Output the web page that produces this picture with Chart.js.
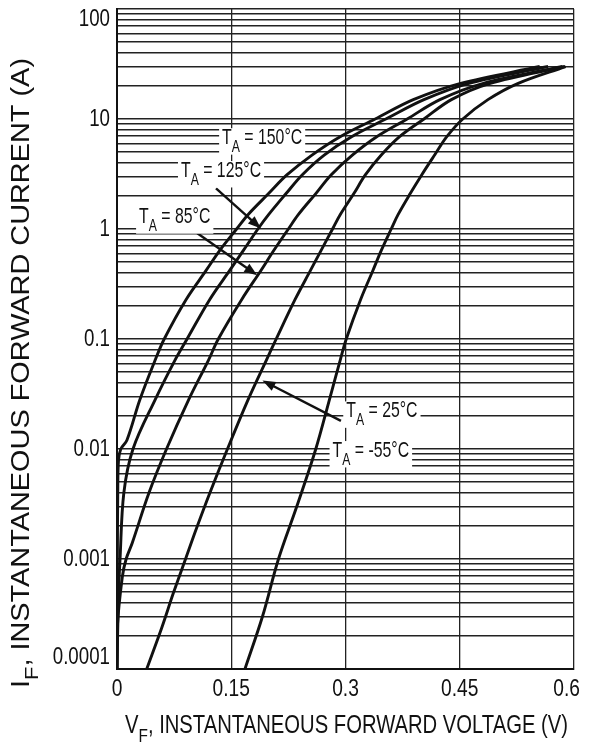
<!DOCTYPE html>
<html>
<head>
<meta charset="utf-8">
<script src="https://cdn.jsdelivr.net/npm/chart.js@4.4.1/dist/chart.umd.min.js"></script>
<style>
  html, body { margin: 0; padding: 0; background: #fff; }
  #wrap { width: 590px; height: 749px; }
</style>
</head>
<body>
<div id="wrap"><canvas id="chart" width="590" height="749"></canvas></div>
<script>
// forward voltage (V) vs forward current (A)
const vf150 = [0, 0.0005, 0.001, 0.002, 0.005, 0.013, 0.03, 0.05, 0.062, 0.091, 0.117, 0.135, 0.157, 0.172, 0.199, 0.223, 0.256, 0.293, 0.339, 0.389, 0.45, 0.555];
const if150 = [0.0001, 0.001, 0.004, 0.0079, 0.01, 0.012, 0.028, 0.064, 0.1, 0.23, 0.42, 0.64, 1, 1.35, 2.1, 3.1, 4.7, 6.9, 10, 15, 21, 30];

const vf125 = [0, 0.002, 0.004, 0.009, 0.021, 0.05, 0.076, 0.092, 0.122, 0.148, 0.166, 0.185, 0.199, 0.222, 0.243, 0.272, 0.308, 0.353, 0.403, 0.461, 0.566];
const if125 = [0.0001, 0.00049, 0.001, 0.004, 0.01, 0.028, 0.064, 0.1, 0.23, 0.42, 0.64, 1, 1.35, 2.1, 3.1, 4.7, 6.9, 10, 15, 21, 30];

const vf85 = [0, 0.0004, 0.007, 0.012, 0.02, 0.042, 0.065, 0.094, 0.12, 0.133, 0.164, 0.189, 0.206, 0.225, 0.238, 0.261, 0.281, 0.309, 0.341, 0.381, 0.424, 0.48, 0.585];
const if85 = [0.0001, 0.00024, 0.00069, 0.001, 0.0014, 0.004, 0.01, 0.028, 0.064, 0.1, 0.23, 0.42, 0.64, 1, 1.35, 2.1, 3.1, 4.7, 6.9, 10, 15, 21, 30];

const vf25 = [0.039, 0.059, 0.074, 0.09, 0.105, 0.122, 0.145, 0.172, 0.196, 0.209, 0.234, 0.254, 0.268, 0.283, 0.293, 0.311, 0.326, 0.347, 0.371, 0.403, 0.439, 0.489, 0.588];
const if25 = [0.0001, 0.00024, 0.00049, 0.001, 0.00195, 0.004, 0.01, 0.028, 0.064, 0.1, 0.23, 0.42, 0.64, 1, 1.35, 2.1, 3.1, 4.7, 6.9, 10, 15, 21, 30];

const vfm55 = [0.168, 0.191, 0.212, 0.236, 0.261, 0.28, 0.293, 0.301, 0.32, 0.336, 0.347, 0.36, 0.369, 0.385, 0.4, 0.417, 0.433, 0.454, 0.487, 0.526, 0.589];
const ifm55 = [0.0001, 0.0003, 0.001, 0.003, 0.01, 0.03, 0.064, 0.1, 0.23, 0.42, 0.64, 1, 1.35, 2.1, 3.1, 4.7, 6.9, 10, 15, 21, 30];

const temps = ['150°C', '125°C', '85°C', '25°C', '-55°C'];
const xTickValues = [0, 0.15, 0.3, 0.45, 0.6];
const xTickLabels = ['0', '0.15', '0.3', '0.45', '0.6'];
const yTickLabels = ['0.0001', '0.001', '0.01', '0.1', '1', '10', '100'];

const FONT = '"Liberation Sans", Arial, sans-serif';
const INK = '#111';

const series = [[vf150, if150], [vf125, if125], [vf85, if85], [vf25, if25], [vfm55, ifm55]];

// label anchors (V, A) and arrows for the temperature call-outs
const callouts = [
  { text: temps[0], v: 0.138, i: 6.7 },
  { text: temps[1], v: 0.084, i: 3.37, arrow: [0.130, 2.34, 0.189, 1.01] },
  { text: temps[2], v: 0.029, i: 1.28, arrow: [0.105, 0.92, 0.184, 0.38] },
  { text: temps[3], v: 0.301, i: 0.022, arrow: [0.294, 0.018, 0.191, 0.042] },
  { text: temps[4], v: 0.283, i: 0.0096 }
];

function partsWidth(ctx, parts, size) {
  let w = 0;
  parts.forEach(p => {
    ctx.font = `${p.sub ? Math.round(size * 0.75) : size}px ${FONT}`;
    w += ctx.measureText(p.t).width;
  });
  return w;
}

// draws text runs with subscripts; origin = left edge, vertical middle
function drawParts(ctx, parts, size) {
  let x = 0;
  ctx.textBaseline = 'middle';
  ctx.textAlign = 'left';
  parts.forEach(p => {
    const s = p.sub ? Math.round(size * 0.75) : size;
    ctx.font = `${s}px ${FONT}`;
    ctx.fillText(p.t, x, p.sub ? size * 0.42 : 0);
    x += ctx.measureText(p.t).width;
  });
}

function drawArrow(ctx, x1, y1, x2, y2) {
  const ang = Math.atan2(y2 - y1, x2 - x1);
  const len = 13, half = 5;
  ctx.beginPath();
  ctx.moveTo(x1, y1);
  ctx.lineTo(x2 - Math.cos(ang) * len * 0.8, y2 - Math.sin(ang) * len * 0.8);
  ctx.lineWidth = 2.4;
  ctx.strokeStyle = INK;
  ctx.stroke();
  ctx.beginPath();
  ctx.moveTo(x2, y2);
  ctx.lineTo(x2 - Math.cos(ang) * len - Math.sin(ang) * half, y2 - Math.sin(ang) * len + Math.cos(ang) * half);
  ctx.lineTo(x2 - Math.cos(ang) * len + Math.sin(ang) * half, y2 - Math.sin(ang) * len - Math.cos(ang) * half);
  ctx.closePath();
  ctx.fillStyle = INK;
  ctx.fill();
}

const textPlugin = {
  id: 'datasheetText',
  afterDraw(chart) {
    const ctx = chart.ctx;
    const xs = chart.scales.x, ys = chart.scales.y;
    const area = chart.chartArea;
    ctx.save();
    ctx.fillStyle = INK;

    // y tick labels (condensed face)
    yTickLabels.forEach(lbl => {
      let y = ys.getPixelForValue(Number(lbl));
      y = Math.min(Math.max(y, area.top + 10), area.bottom - 12);
      ctx.save();
      ctx.translate(area.left - 7, y);
      ctx.scale(0.78, 1);
      ctx.font = `24px ${FONT}`;
      ctx.textAlign = 'right';
      ctx.textBaseline = 'middle';
      ctx.fillText(lbl, 0, 0);
      ctx.restore();
    });

    // x tick labels
    xTickValues.forEach((v, k) => {
      ctx.font = `24px ${FONT}`;
      const w = ctx.measureText(xTickLabels[k]).width * 0.8;
      let x = xs.getPixelForValue(v);
      x = Math.min(x, chart.width - 10 - w / 2);
      ctx.save();
      ctx.translate(x, area.bottom + 20);
      ctx.scale(0.8, 1);
      ctx.textAlign = 'center';
      ctx.textBaseline = 'middle';
      ctx.fillText(xTickLabels[k], 0, 0);
      ctx.restore();
    });

    // x title
    const xt = [{ t: 'V' }, { t: 'F', sub: true }, { t: ', INSTANTANEOUS FORWARD VOLTAGE (V)' }];
    const xSize = 25;
    const xSq = 443 / partsWidth(ctx, xt, xSize);
    ctx.save();
    ctx.translate(125, 726);
    ctx.scale(xSq, 1);
    drawParts(ctx, xt, xSize);
    ctx.restore();

    // y title (rotated)
    const yt = [{ t: 'I' }, { t: 'F', sub: true }, { t: ', INSTANTANEOUS FORWARD CURRENT (A)' }];
    const ySize = 25;
    const ySq = 630 / partsWidth(ctx, yt, ySize);
    ctx.save();
    ctx.translate(22, 688);
    ctx.rotate(-Math.PI / 2);
    ctx.scale(ySq, 1);
    drawParts(ctx, yt, ySize);
    ctx.restore();

    // temperature call-outs
    callouts.forEach(c => {
      if (c.arrow) {
        drawArrow(ctx, xs.getPixelForValue(c.arrow[0]), ys.getPixelForValue(c.arrow[1]),
          xs.getPixelForValue(c.arrow[2]), ys.getPixelForValue(c.arrow[3]));
      }
    });
    callouts.forEach(c => {
      const parts = [{ t: 'T' }, { t: 'A', sub: true }, { t: ' = ' + c.text }];
      const size = 22, sq = 0.72;
      const x = xs.getPixelForValue(c.v), y = ys.getPixelForValue(c.i);
      const w = partsWidth(ctx, parts, size) * sq;
      ctx.fillStyle = '#fff';
      ctx.fillRect(x - 3, y - size * 0.45, w + 6, size * 1.2);
      ctx.fillStyle = INK;
      ctx.save();
      ctx.translate(x, y);
      ctx.scale(sq, 1);
      drawParts(ctx, parts, size);
      ctx.restore();
    });

    ctx.restore();
  }
};

new Chart(document.getElementById('chart'), {
  type: 'line',
  data: {
    datasets: series.map((s, k) => ({
      label: temps[k],
      data: s[0].map((v, i) => ({ x: v, y: s[1][i] })),
      borderColor: INK,
      borderWidth: 2.9,
      pointRadius: 0,
      tension: 0.35,
      fill: false
    }))
  },
  options: {
    responsive: false,
    animation: false,
    layout: { padding: { top: 9, right: 16, left: 0, bottom: 0 } },
    plugins: {
      legend: { display: false },
      tooltip: { enabled: false }
    },
    scales: {
      x: {
        type: 'linear',
        min: 0,
        max: 0.6,
        afterBuildTicks: scale => { scale.ticks = xTickValues.map(v => ({ value: v })); },
        afterFit: scale => { scale.height = 80; },
        ticks: { display: false },
        grid: { color: '#222', lineWidth: 1.3, drawTicks: false },
        border: { display: true, color: '#111', width: 2 }
      },
      y: {
        type: 'logarithmic',
        min: 0.0001,
        max: 100,
        afterBuildTicks: scale => {
          const t = [];
          yTickLabels.slice(0, -1).map(Number).forEach(d => {
            for (let k = 1; k < 10; k++) t.push({ value: d * k });
          });
          t.push({ value: 100 });
          scale.ticks = t;
        },
        afterFit: scale => { scale.width = 117; },
        ticks: { display: false },
        grid: { color: '#222', lineWidth: 1.6, drawTicks: false },
        border: { display: true, color: '#111', width: 2 }
      }
    }
  },
  plugins: [textPlugin]
});
</script>
</body>
</html>
